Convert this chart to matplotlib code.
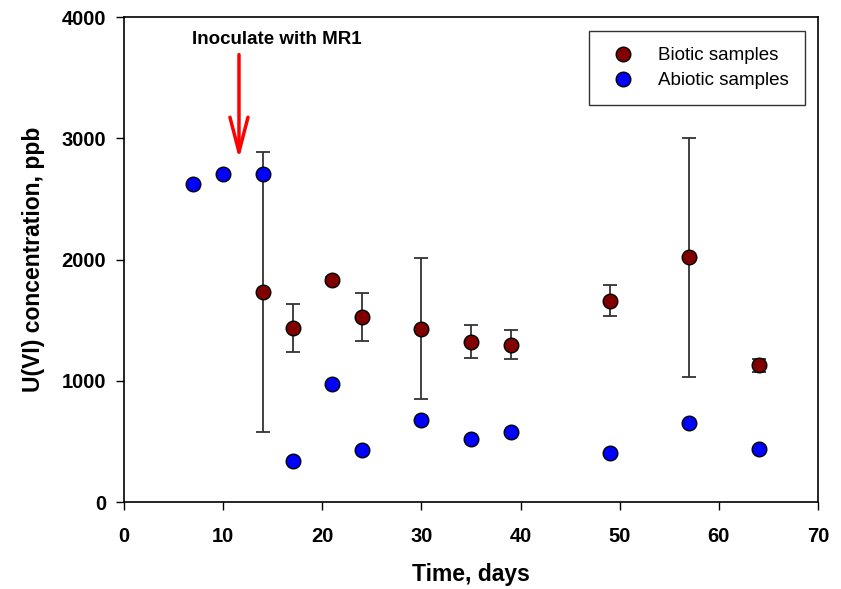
import matplotlib
matplotlib.use("Agg")
from matplotlib import pyplot as plt
import numpy as np

plt.rcParams['font.family'] = ['Liberation Sans', 'DejaVu Sans']

# Sampling days and U(VI) concentrations (ppb)
biotic_days = [14, 17, 21, 24, 30, 35, 39, 49, 57, 64]
biotic_conc = [1735, 1435, 1834, 1526, 1430, 1322, 1297, 1660, 2018, 1127]
biotic_err = [1155, 198, 25, 195, 580, 137, 121, 128, 983, 55]

abiotic_days = [7, 10, 14, 17, 21, 24, 30, 35, 39, 49, 57, 64]
abiotic_conc = [2620, 2705, 2705, 338, 973, 429, 676, 520, 577, 404, 652, 437]

inoculation_day = 11.6

fig = plt.figure(figsize=(8.41, 5.89), dpi=100)
ax = fig.add_axes([0.1474, 0.1477, 0.8253, 0.8234])

# Error bars first so the markers sit on top
ax.errorbar(biotic_days, biotic_conc, yerr=biotic_err, fmt='none',
            ecolor='#333333', elinewidth=1.3, capsize=4.7, capthick=1.3, zorder=2)
ax.plot(biotic_days, biotic_conc, 'o', color='#800000', markeredgecolor='black',
        markeredgewidth=1.0, markersize=10.5, label='Biotic samples', zorder=3)
ax.plot(abiotic_days, abiotic_conc, 'o', color='#0000ff', markeredgecolor='black',
        markeredgewidth=1.0, markersize=10.5, label='Abiotic samples', zorder=4)

# Inoculation marker
ax.annotate('', xy=(inoculation_day, 2830), xytext=(inoculation_day, 3690),
            arrowprops=dict(arrowstyle='->,head_length=2.5,head_width=0.65',
                            color='red', lw=2.5, shrinkA=0, shrinkB=0))
ax.text(15.4, 3815, 'Inoculate with MR1', ha='center', va='center',
        fontsize=13.5, fontweight='bold')

ax.set_xlim(0, 70)
ax.set_ylim(0, 4000)
ax.set_xticks(np.arange(0, 71, 10))
ax.set_yticks(np.arange(0, 4001, 1000))
ax.tick_params(direction='out', length=6, width=1, labelsize=14.5)
ax.tick_params(axis='x', pad=12)
ax.tick_params(axis='y', pad=7)
for lbl in ax.get_xticklabels() + ax.get_yticklabels():
    lbl.set_fontweight('bold')
for sp in ax.spines.values():
    sp.set_linewidth(1.2)

ax.set_xlabel('Time, days', fontsize=16.5, fontweight='bold', labelpad=12)
ax.set_ylabel('U(VI) concentration, ppb', fontsize=16.5, fontweight='bold', labelpad=12)

leg = ax.legend(loc='upper right', bbox_to_anchor=(0.981, 0.971), fontsize=13.5,
                frameon=True, fancybox=False, edgecolor='black',
                borderpad=0.85, handletextpad=0.85, labelspacing=0.42,
                borderaxespad=0)
leg.get_frame().set_linewidth(1.0)

fig.savefig('out.png', dpi=100)
